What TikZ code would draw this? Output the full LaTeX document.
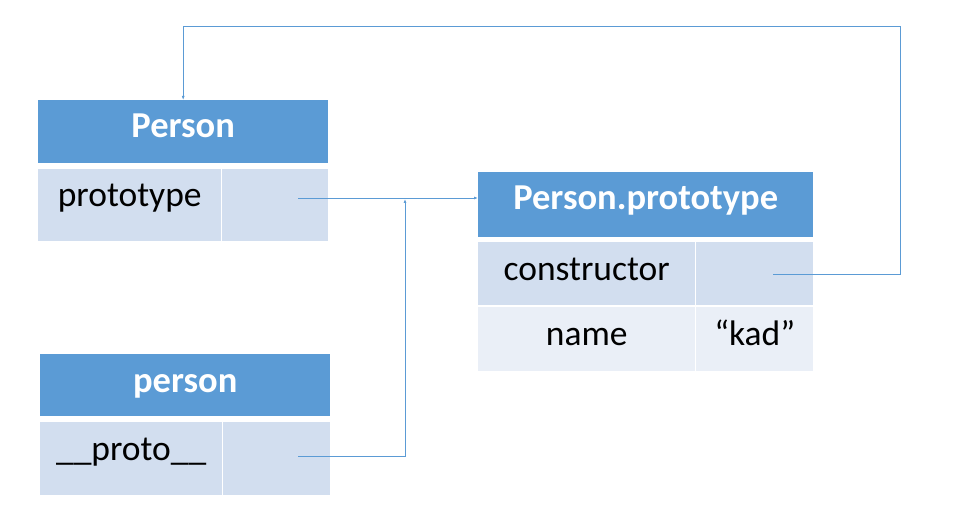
\documentclass[tikz,border=0pt]{standalone}
\usepackage{fontspec}
\setmainfont{Carlito}
\usetikzlibrary{math}
\usetikzlibrary{arrows.meta}

\definecolor{headblue}{HTML}{5B9BD5}
\definecolor{bandblue}{HTML}{D2DEEF}
\definecolor{bandpale}{HTML}{EAEFF7}

\tikzset{
	cell/.style={inner sep=0pt, anchor=north west, fill=bandblue},
	headcell/.style={cell, fill=headblue},
	celltext/.style={inner sep=0pt, anchor=base, font=\fontsize{35.5}{40}\selectfont},
	headtext/.style={celltext, text=white, font=\fontsize{36.5}{40}\selectfont\bfseries},
	link/.style={draw=headblue, line width=0.9pt, -{Latex[length=4pt,width=3pt]}},
}

\begin{document}
\begin{tikzpicture}[x=1pt, y=-1pt]

	\tikzmath{\bl = -38;}
	\useasboundingbox (0,0) rectangle (954,532);

	% Person
	\node[headcell, minimum width=290pt, minimum height=63pt] (Phead) at (38,100) {};
	\node[cell, minimum width=183pt, minimum height=72pt] (Pkey) at (38,169) {};
	\node[cell, minimum width=106pt, minimum height=72pt] (Pval) at (222,169) {};
	\node[headtext] (PheadT) at ([yshift=\bl pt]Phead.north) {Person};
	\node[celltext] (PkeyT) at ([yshift=\bl pt]Pkey.north) {prototype};

	% Person.prototype
	\node[headcell, minimum width=335pt, minimum height=65pt] (PPhead) at (478,172) {};
	\node[cell, minimum width=217pt, minimum height=63pt] (PPkeyA) at (478,242) {};
	\node[cell, minimum width=117pt, minimum height=63pt] (PPvalA) at (696,242) {};
	\node[cell, fill=bandpale, minimum width=217pt, minimum height=64pt] (PPkeyB) at (478,307) {};
	\node[cell, fill=bandpale, minimum width=117pt, minimum height=64pt] (PPvalB) at (696,307) {};
	\node[headtext] (PPheadT) at ([yshift=\bl pt]PPhead.north) {Person.prototype};
	\node[celltext] (PPkeyAT) at ([yshift=\bl pt]PPkeyA.north) {constructor};
	\node[celltext] (PPkeyBT) at ([yshift=\bl pt]PPkeyB.north) {name};
	\node[celltext] (PPvalBT) at ([yshift=\bl pt]PPvalB.north) {“kad”};

	% person
	\node[headcell, minimum width=290pt, minimum height=62pt] (phead) at (40,354) {};
	\node[cell, minimum width=182pt, minimum height=73pt] (pkey) at (40,422) {};
	\node[cell, minimum width=107pt, minimum height=73pt] (pval) at (223,422) {};
	\node[headtext] (pheadT) at ([yshift=\bl pt]phead.north) {person};
	\node[celltext] (pkeyT) at ([yshift=\bl pt]pkey.north) {\_\_proto\_\_};

	% links
	\coordinate (Pstart) at (298,198);
	\coordinate (pstart) at (298,456);
	\coordinate (join) at (405,199);
	\coordinate (cstart) at (773,274);
	\coordinate (topright) at (900,26);
	\draw[link] (Pstart) -- (Pstart -| PPhead.west);
	\draw[link] (pstart) -| (join);
	\draw[link] (cstart) -| (topright) -| (Phead.north);
\end{tikzpicture}
\end{document}
